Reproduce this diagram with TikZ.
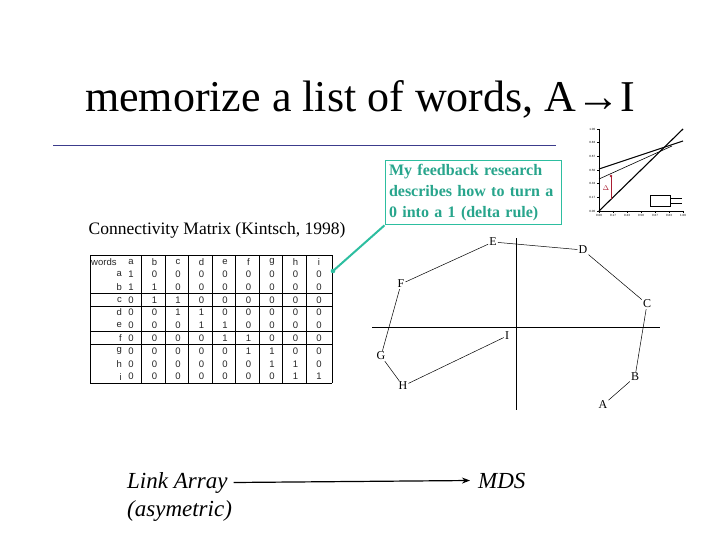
\documentclass[tikz,border=0pt]{standalone}
\usepackage{fontspec}
\setmainfont{Liberation Serif}
\newfontfamily\tablefont{Liberation Sans}
\usetikzlibrary{arrows.meta,positioning}
\definecolor{ruleBlue}{RGB}{60,60,140}
\definecolor{noteLine}{RGB}{45,190,160}
\definecolor{noteText}{RGB}{40,165,140}
\definecolor{deltaRed}{RGB}{170,30,50}
\tikzset{
  cell/.style={font=\tablefont\fontsize{9.5}{10}\selectfont, text=black!85, inner sep=0pt},
  grid/.style={line width=0.8pt},
  mdslabel/.style={font=\fontsize{12}{12}\selectfont, inner sep=1pt},
  mdsline/.style={line width=0.5pt},
  axisline/.style={line width=1pt},
  note/.style={draw=noteLine, line width=1pt, text=noteText, font=\bfseries\fontsize{16}{21}\selectfont,
               text width=168pt, align=left, inner sep=4pt},
  bigital/.style={font=\itshape\fontsize{23}{28}\selectfont, inner sep=0pt},
  tick/.style={font=\tablefont\fontsize{3}{3}\selectfont, inner sep=0.5pt},
}

\begin{document}
\begin{tikzpicture}[x=1pt,y=-1pt]
\useasboundingbox[fill=white] (0,0) rectangle (720,540);
% title and rule
\node[anchor=base, font=\fontsize{44}{44}\selectfont, inner sep=0pt] (title) at (360,112)
  {memorize a list of words, A→I};
\coordinate (ruleL) at (53,145);
\coordinate (ruleR) at (556,145);
\draw[ruleBlue, line width=0.8pt] (ruleL) -- (ruleR);
\node[anchor=base, font=\fontsize{17.5}{17.5}\selectfont, inner sep=0pt] (caption) at (217,234)
  {Connectivity Matrix (Kintsch, 1998)};

% connectivity matrix
\node[cell, anchor=west] (hwords) at (91,262.4) {words};
\foreach \c [count=\k from 0] in {a,b,c,d,e,f,g,h,i}{
  \node[cell] (h\c) at ({131+23.5*\k},262.4) {\c};
}
\foreach \r/\vals [count=\j] in {a/{1,0,0,0,0,0,0,0,0},b/{1,1,0,0,0,0,0,0,0},
    c/{0,1,1,0,0,0,0,0,0},d/{0,0,1,1,0,0,0,0,0},e/{0,0,0,1,1,0,0,0,0},
    f/{0,0,0,0,1,1,0,0,0},g/{0,0,0,0,0,1,1,0,0},h/{0,0,0,0,0,0,1,1,0},
    i/{0,0,0,0,0,0,0,1,1}}{
  \node[cell, anchor=east] (r\r) at (122,{255+12.8*(\j+0.5)}) {\r};
  \foreach \v [count=\k from 0] in \vals{
    \node[cell] (m\r\k) at ({131+23.5*\k},{255+12.8*(\j+0.5)}) {\v};
  }
}
\foreach \yy in {255,293.4,306.2,331.8,344.6,383}{
  \draw[grid] (90,\yy) -- (332,\yy);
}
\foreach \xx in {90,141.75,165.25,188.75,212.25,235.75,259.25,282.75,306.25,332}{
  \draw[grid] (\xx,255) -- (\xx,383);
}

% callout
\node[note] (note) at (473,192.5)
  {My feedback research\\ describes how to turn a\\ 0 into a 1 (delta rule)};
\coordinate (tip) at (333,271);
\draw[noteLine, line width=2pt] (note.south west) -- (tip);
\fill[noteLine] (tip) circle (2.3);

% small delta-rule chart
\coordinate (o) at (599,211);
\draw[line width=0.5pt] (599,129) -- (o) -- (683,211);
\foreach \t [count=\k from 0] in {0.00,0.17,0.33,0.50,0.67,0.83,1.00}{
  \draw[line width=0.4pt] ({599+14*\k},211) -- ({599+14*\k},213);
  \node[tick, below] (xt\k) at ({599+14*\k},214) {\t};
  \draw[line width=0.4pt] (599,{211-13.67*\k}) -- (597,{211-13.67*\k});
  \node[tick, left] (yt\k) at (596,{211-13.67*\k}) {\t};
}
\draw[line width=1.1pt] (o) -- (683,129);
\draw[line width=1.1pt] (599,169) -- (683,141);
\draw[line width=0.6pt] (599,179) -- (672,146);
\draw[deltaRed, line width=0.8pt] (611,199) -- (611,176);
\fill[deltaRed] (611,176) circle (1.3);
\node[text=deltaRed, font=\fontsize{7}{7}\selectfont, inner sep=0pt] (delta) at (606,188) {$\Delta$};
\draw[line width=0.4pt] (650,195) rectangle (670,206);
\draw[line width=0.6pt] (670,198) -- (682,198);
\draw[line width=0.9pt] (670,203) -- (682,203);

% MDS plot
\coordinate (axL) at (372,327);
\coordinate (axR) at (660,327);
\coordinate (axT) at (516,238);
\coordinate (axB) at (516,410);
\draw[axisline] (axL) -- (axR);
\draw[axisline] (axT) -- (axB);
\node[mdslabel] (E) at (493,242) {E};
\node[mdslabel] (D) at (583,250) {D};
\node[mdslabel] (C) at (647,304) {C};
\node[mdslabel] (B) at (635,377) {B};
\node[mdslabel] (A) at (603,405) {A};
\node[mdslabel] (I) at (507,336) {I};
\node[mdslabel] (H) at (403,386) {H};
\node[mdslabel] (G) at (381,356) {G};
\node[mdslabel] (F) at (401,284) {F};
\draw[mdsline] (E) -- (D) -- (C) -- (B) -- (A);
\draw[mdsline] (I) -- (H) -- (G) -- (F) -- (E);

% link array to MDS
\node[bigital, anchor=base west] (link) at (127,488) {Link Array};
\node[bigital, anchor=base west] (asym) at (127,516) {(asymetric)};
\node[bigital, anchor=base west] (mds) at (478,488) {MDS};
\draw[line width=1.2pt, -{Stealth[length=8pt,width=6pt]}] (link.east) ++(6,0) -- ([xshift=-8pt]mds.west);
\end{tikzpicture}
\end{document}
